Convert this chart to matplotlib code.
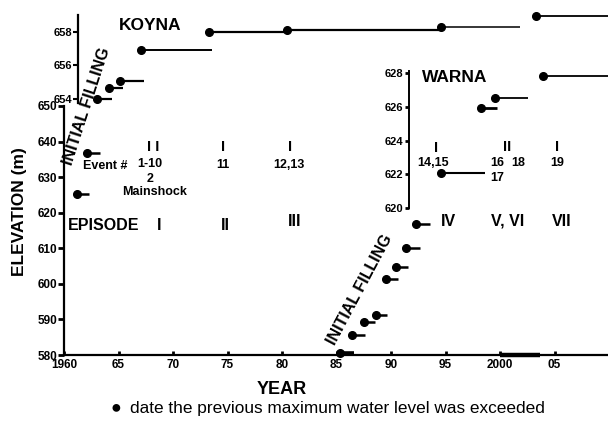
import matplotlib
matplotlib.use("Agg")
import matplotlib.pyplot as plt

plt.rcParams['font.family'] = ['Liberation Sans', 'DejaVu Sans']

# Koyna reservoir, upper panel (levels 654-659 m)
koyna_years = [1963.0, 1964.1, 1965.1, 1967.1, 1973.3, 1980.5, 1994.6, 2003.3]
koyna_levels = [654.0, 654.65, 655.1, 656.9, 658.0, 658.1, 658.3, 658.95]
koyna_until = [1964.4, 1965.4, 1967.3, 1973.6, 1980.5, 1994.6, 2001.8, 2010.0]
koyna_lw = [1.6, 1.6, 1.6, 1.4, 1.6, 1.6, 1.1, 1.3]

# Koyna initial filling, drawn in the main axes
koyna_fill_years = [1961.2, 1962.1]
koyna_fill_levels = [625.3, 636.8]
koyna_fill_until = [1962.3, 1963.3]

# Warna initial filling, main axes
warna_fill_years = [1985.3, 1986.4, 1987.5, 1988.6, 1989.5, 1990.5, 1991.4, 1992.3]
warna_fill_levels = [580.6, 585.6, 589.3, 591.2, 601.4, 604.7, 610.1, 616.8]
warna_fill_until = [1986.6, 1987.6, 1988.5, 1989.6, 1990.6, 1991.6, 1992.7, 1993.6]

# Warna reservoir, inset panel (620-628 m)
warna_years = [1994.6, 1998.3, 1999.5, 2003.9]
warna_levels = [622.1, 625.9, 626.5, 627.8]
warna_until = [1998.6, 1999.7, 2002.6, 2010.0]
warna_lw = [1.5, 2.0, 1.3, 1.3]

# segment sitting on the x-axis
axis_seg_years = [2000.0, 2003.7]
axis_seg_levels = [580, 580]

year_ticks = [1960, 1965, 1970, 1975, 1980, 1985, 1990, 1995, 2000, 2005]
year_labels = ['1960', '65', '70', '75', '80', '85', '90', '95', '2000', '05']
elev_ticks = [580, 590, 600, 610, 620, 630, 640, 650]
koyna_ticks = [654, 656, 658]
warna_ticks = [620, 622, 624, 626, 628]

W, H = 608, 421
fig = plt.figure(figsize=(W / 100, H / 100), dpi=100)


def rect(x0, top, x1, bottom):
    return [x0 / W, 1 - bottom / H, (x1 - x0) / W, (bottom - top) / H]


def ftext(x, y, s, **kw):
    kw.setdefault('ha', 'center')
    kw.setdefault('va', 'center')
    fig.text(x / W, 1 - y / H, s, **kw)


def steps(ax, xs, ys, ends, lws, ms=5.5):
    for x, y, e, lw in zip(xs, ys, ends, lws):
        ax.plot([x, e], [y, y], color='black', lw=lw, solid_capstyle='butt',
                clip_on=False)
        ax.plot([x], [y], 'o', color='black', ms=ms, clip_on=False)


# main axes
ax = fig.add_axes(rect(64, 106, 609, 355))
ax.set_xlim(1960, 2010)
ax.set_ylim(580, 650)
for s in ['top', 'right']:
    ax.spines[s].set_visible(False)
for s in ['left', 'bottom']:
    ax.spines[s].set_linewidth(1.6)
ax.set_xticks(year_ticks)
ax.set_xticklabels(year_labels, fontsize=8.5, fontweight='bold')
ax.set_yticks(elev_ticks)
ax.set_yticklabels([str(v) for v in elev_ticks], fontsize=8.5, fontweight='bold')
ax.tick_params(axis='x', direction='in', length=3, width=2, pad=3)
ax.tick_params(axis='y', direction='out', length=4, width=2, pad=1)
ax.patch.set_alpha(0)

steps(ax, koyna_fill_years, koyna_fill_levels, koyna_fill_until, [1.8, 1.8])
steps(ax, warna_fill_years, warna_fill_levels, warna_fill_until, [2.6] + [1.8] * 7)
ax.plot(axis_seg_years, axis_seg_levels, color='black', lw=3.2,
        solid_capstyle='butt', clip_on=False)

# Koyna panel
ak = fig.add_axes(rect(64, 15, 609, 103))
ak.set_xlim(1960, 2010)
ak.set_ylim(653.76, 659.01)
ak.patch.set_alpha(0)
for s in ['top', 'right', 'bottom']:
    ak.spines[s].set_visible(False)
ak.spines['left'].set_position(('data', 1961.3))
ak.spines['left'].set_linewidth(1.6)
ak.set_xticks([])
ak.set_yticks(koyna_ticks)
ak.set_yticklabels([str(v) for v in koyna_ticks], fontsize=8, fontweight='bold')
ak.tick_params(axis='y', direction='out', length=3.5, width=1.5, pad=0.5)
steps(ak, koyna_years, koyna_levels, koyna_until, koyna_lw)

# Warna panel
aw = fig.add_axes(rect(64, 71, 609, 208))
aw.set_xlim(1960, 2010)
aw.set_ylim(620, 628.12)
aw.patch.set_alpha(0)
for s in ['top', 'right', 'bottom']:
    aw.spines[s].set_visible(False)
aw.spines['left'].set_position(('data', 1991.65))
aw.spines['left'].set_linewidth(1.4)
aw.set_xticks([])
aw.set_yticks(warna_ticks)
aw.set_yticklabels([str(v) for v in warna_ticks], fontsize=8, fontweight='bold')
aw.tick_params(axis='y', direction='out', length=3, width=2, pad=1)
steps(aw, warna_years, warna_levels, warna_until, warna_lw)

# annotations
ftext(150, 26, 'KOYNA', fontsize=12.5, fontweight='bold')
ftext(455, 78, 'WARNA', fontsize=12.5, fontweight='bold')
ftext(87, 106, 'INITIAL FILLING', fontsize=11.5, fontweight='bold', rotation=72)
ftext(360, 290, 'INITIAL FILLING', fontsize=11.5, fontweight='bold', rotation=62)

ev = dict(fontsize=9, fontweight='bold')
ftext(105, 166, 'Event #', **ev)
ftext(150, 164, '1-10', **ev)
ftext(150, 179, '2', **ev)
ftext(155, 192, 'Mainshock', **ev)
ftext(223, 165, '11', **ev)
ftext(289, 165, '12,13', **ev)
ftext(433, 163, '14,15', **ev)
ftext(497, 163, '16', **ev)
ftext(518, 163, '18', **ev)
ftext(497, 178, '17', **ev)
ftext(557, 163, '19', **ev)

rk = dict(fontsize=10.5, fontweight='bold')
ftext(153, 147, 'I I', **rk)
ftext(223, 147, 'I', **rk)
ftext(290, 147, 'I', **rk)
ftext(436, 148, 'I', **rk)
ftext(507, 147, 'II', **rk)
ftext(557, 147, 'I', **rk)

ep = dict(fontsize=11.5, fontweight='bold')
ftext(104, 225, 'EPISODE', **ep)
ftext(159, 225, 'I', **ep)
ftext(225, 225, 'II', **ep)
ftext(295, 222, 'III', **ep)
ftext(448, 221, 'IV', **ep)
ftext(508, 221, 'V, VI', **ep)
ftext(562, 221, 'VII', **ep)

ftext(20, 212, 'ELEVATION (m)', fontsize=12.5, fontweight='bold', rotation=90)
ftext(282, 389, 'YEAR', fontsize=13, fontweight='bold')

ftext(116, 408, '\u25CF', fontsize=13)
ftext(130, 409, 'date the previous maximum water level was exceeded',
      fontsize=12.4, ha='left')

fig.savefig('out.png', dpi=100)
